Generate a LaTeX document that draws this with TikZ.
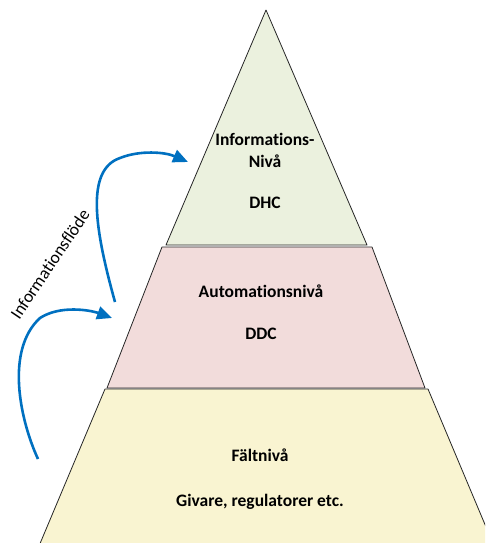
\documentclass[tikz,border=0pt]{standalone}
\usepackage{fontspec}
\setmainfont{Carlito}[Ligatures={NoCommon,NoRare,NoContextual}]
\usetikzlibrary{arrows.meta}
\definecolor{lvgreen}{HTML}{EBF1DE}
\definecolor{lvpink}{HTML}{F2DCDB}
\definecolor{lvyellow}{HTML}{F9F4D1}
\definecolor{flowblue}{HTML}{0070C0}
\tikzset{
  level/.style={draw=black!85, line width=0.8pt, line join=round},
  lbl/.style={anchor=base, font=\bfseries\fontsize{17.5}{20}\selectfont, inner sep=0pt},
  flow/.style={draw=flowblue, line width=2.6pt, -{Triangle[length=15pt,width=13pt]}},
}
\begin{document}
\begin{tikzpicture}[x=1pt,y=-1pt]
\useasboundingbox (0,0) rectangle (485,543);
\begin{scope}
\clip (0,0) rectangle (485,543);
\filldraw[level, fill=lvyellow] (105,389) -- (428,389) -- (502,565) -- (31,565) -- cycle;
\filldraw[level, fill=lvpink] (162,247) -- (372,247) -- (425,388) -- (107,388) -- cycle;
\filldraw[level, fill=lvgreen] (266,10) -- (367,245) -- (166,245) -- cycle;
\end{scope}
\node[lbl] (t1) at (265,145) {Informations-};
\node[lbl] (t2) at (265,167) {Nivå};
\node[lbl] (t3) at (265,208) {DHC};
\node[lbl] (m1) at (261,297) {Automationsnivå};
\node[lbl] (m2) at (261,339) {DDC};
\node[lbl] (b1) at (260,461) {Fältnivå};
\node[lbl] (b2) at (260,506) {Givare, regulatorer etc.};
\node[rotate=56, font=\fontsize{17.5}{20}\selectfont, inner sep=0pt] (flowlbl) at (50,264) {Informationsflöde};
\coordinate (a1s) at (115,302);
\coordinate (a1m) at (120,158);
\coordinate (a1e) at (188,162);
\coordinate (a2s) at (38,459);
\coordinate (a2m) at (40,318);
\coordinate (a2e) at (112,318);
\draw[flow] (a1s) .. controls (95,230) and (85,170) .. (a1m) .. controls (140,150) and (165,152) .. (a1e);
\draw[flow] (a2s) .. controls (20,420) and (5,350) .. (a2m) .. controls (60,305) and (90,310) .. (a2e);
\end{tikzpicture}
\end{document}
